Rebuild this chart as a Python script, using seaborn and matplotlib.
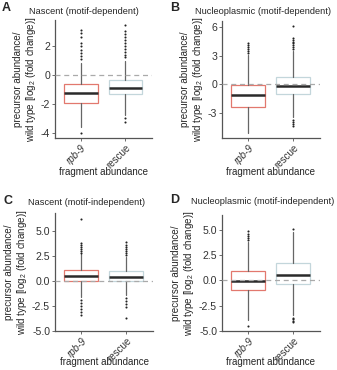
import numpy as np
import pandas as pd
import matplotlib
matplotlib.use('Agg')
import matplotlib.pyplot as plt
import matplotlib.transforms as mtransforms
import seaborn as sns

sns.set_style('ticks')
plt.rcParams['font.family'] = ['Liberation Sans', 'DejaVu Sans']
plt.rcParams['mathtext.fontset'] = 'custom'
plt.rcParams['mathtext.rm'] = 'Liberation Sans'
plt.rcParams['axes.unicode_minus'] = False

groups = ['rpb-9', 'rescue']
titles = ['Nascent (motif-dependent)', 'Nucleoplasmic (motif-dependent)',
          'Nascent (motif-independent)', 'Nucleoplasmic (motif-independent)']
letters = ['A', 'B', 'C', 'D']

# box stats per panel: [rpb-9, rescue]
a_q1 = [-1.90, -1.30]; a_med = [-1.25, -0.91]; a_q3 = [-0.64, -0.34]
a_lo = [-3.54, -2.74]; a_hi = [0.85, 0.95]
a_out_rpb9 = [-3.97, 1.1, 1.3, 1.5, 1.7, 2.0, 2.2, 2.6, 2.9, 3.08]
a_out_rescue = [-2.95, -3.2, 1.2, 1.4, 1.6, 1.8, 2.0, 2.2, 2.4, 2.6, 2.8, 3.0, 3.42]

b_q1 = [-2.40, -0.99]; b_med = [-1.17, -0.14]; b_q3 = [-0.10, 0.77]
b_lo = [-5.10, -3.50]; b_hi = [3.10, 3.50]
b_out_rpb9 = [3.3, 3.5, 3.7, 3.9, 4.1, 4.3]
b_out_rescue = [-3.8, -4.0, -4.2, -4.4, 3.7, 3.9, 4.1, 4.3, 4.5, 4.7, 4.9, 6.1]

c_q1 = [0.02, 0.02]; c_med = [0.50, 0.40]; c_q3 = [1.10, 1.00]
c_lo = [-1.60, -1.45]; c_hi = [2.65, 2.40]
c_out_rpb9 = [-1.9, -2.2, -2.5, -2.8, -3.1, -3.4, 2.8, 3.0, 3.2, 3.4, 3.6, 3.8, 6.2]
c_out_rescue = [-1.7, -2.0, -2.3, -2.6, -3.7, 2.6, 2.8, 3.0, 3.2, 3.4, 3.6, 3.9]

d_q1 = [-0.97, -0.40]; d_med = [-0.07, 0.53]; d_q3 = [0.95, 1.70]
d_lo = [-3.95, -3.45]; d_hi = [3.80, 4.80]
d_out_rpb9 = [-4.5, 4.0, 4.2, 4.4, 4.6, 4.9]
d_out_rescue = [-3.7, -3.85, -4.0, -4.1, 5.1]

panel_stats = [
    (a_q1, a_med, a_q3, a_lo, a_hi, a_out_rpb9, a_out_rescue),
    (b_q1, b_med, b_q3, b_lo, b_hi, b_out_rpb9, b_out_rescue),
    (c_q1, c_med, c_q3, c_lo, c_hi, c_out_rpb9, c_out_rescue),
    (d_q1, d_med, d_q3, d_lo, d_hi, d_out_rpb9, d_out_rescue),
]
yticks = [[-4, -2, 0, 2], [-3, 0, 3, 6], [-5, -2.5, 0, 2.5, 5], [-5, -2.5, 0, 2.5, 5]]
ylims = [(-4.32, 3.77), (-5.66, 6.66), (-5.03, 6.77), (-5.03, 6.5)]
tick_fmt = ['{:.0f}', '{:.0f}', '{:.1f}', '{:.1f}']

edge_colors = ['#e2786e', '#c3d6db']

W, H = 337, 370
fig = plt.figure(figsize=(W / 100, H / 100), dpi=100)
axes_px = [(55, 20, 97, 118), (222, 21, 98, 117), (55, 213, 98, 118), (222, 215, 98, 116)]
title_px = [(84, 12), (263, 12), (86, 203), (263, 201)]
letter_px = [(2, 8), (170, 8), (3, 201), (170, 200)]
xlab_off = [34, 34, 31, 31]

shift = mtransforms.ScaledTranslation(4 / 100, 0, fig.dpi_scale_trans)

for i in range(4):
    l, t, w, h = axes_px[i]
    ax = fig.add_axes([l / W, 1 - (t + h) / H, w / W, h / H])
    q1, med, q3, lo, hi, out1, out2 = panel_stats[i]
    stats = [dict(med=med[k], q1=q1[k], q3=q3[k], whislo=lo[k], whishi=hi[k],
                  fliers=[], label=groups[k]) for k in range(2)]
    bp = ax.bxp(stats, positions=[0, 1], widths=0.76, showfliers=False,
                showcaps=False, patch_artist=True,
                boxprops=dict(facecolor='white', linewidth=0.9),
                medianprops=dict(color='#2a2a2a', linewidth=1.8),
                whiskerprops=dict(color='#666666', linewidth=0.9))
    for k, box in enumerate(bp['boxes']):
        box.set_edgecolor(edge_colors[k])

    df = pd.DataFrame({'group': [groups[0]] * len(out1) + [groups[1]] * len(out2),
                       'value': out1 + out2})
    sns.stripplot(data=df, x='group', y='value', order=groups, jitter=False,
                  color='#222222', size=1.5, linewidth=0, ax=ax)

    ax.axhline(0, ls=(0, (4, 3)), color='#aaaaaa', lw=0.9, zorder=5)
    ax.set_xlim(-0.59, 1.6)
    ax.set_ylim(*ylims[i])
    ax.set_yticks(yticks[i])
    ax.set_yticklabels([tick_fmt[i].format(v) for v in yticks[i]], fontsize=7.6, color='#333333')
    ax.set_xticks([0, 1])
    ax.set_xticklabels(groups, rotation=45, ha='right', va='top', rotation_mode='anchor',
                       fontsize=7, color='#333333')
    for lab in ax.get_xticklabels():
        lab.set_transform(lab.get_transform() + shift)
    ax.get_xticklabels()[0].set_style('italic')
    ax.tick_params(length=2, width=0.6, color='#555555', pad=1.5)
    ax.set_xlabel('fragment abundance', fontsize=7)
    ax.xaxis.set_label_coords(0.5, -xlab_off[i] / h, transform=ax.transAxes)
    ax.xaxis.label.set_va('center')
    ax.set_ylabel('precursor abundance/\nwild type [log$_2$ (fold change)]', fontsize=7.1, labelpad=2, linespacing=1.1)
    for s in ['left', 'bottom']:
        ax.spines[s].set_color('#555555')
        ax.spines[s].set_linewidth(0.9)
    sns.despine(ax=ax)

    tx, ty = title_px[i]
    fig.text(tx / W, 1 - ty / H, titles[i], ha='center', va='center', fontsize=6.7)
    lx, ly = letter_px[i]
    fig.text(lx / W, 1 - ly / H, letters[i], ha='left', va='center', fontsize=9, fontweight='bold')

plt.savefig('out.png', dpi=100)
plt.close()
